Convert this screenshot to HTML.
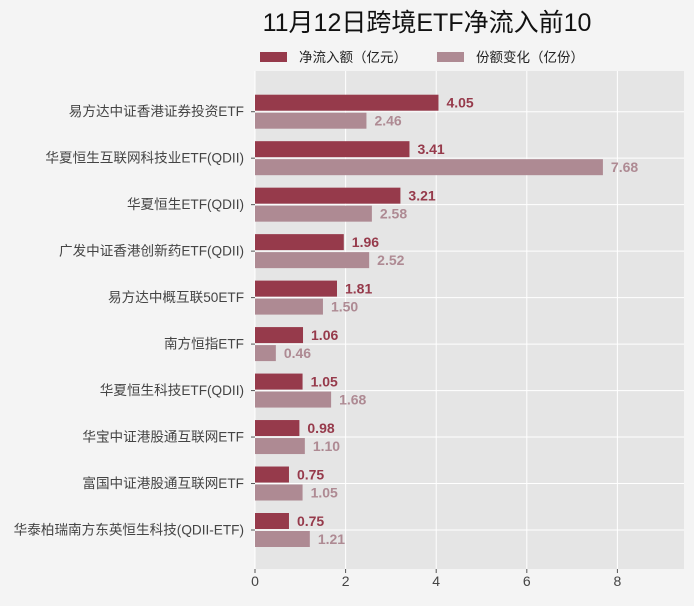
<!DOCTYPE html>
<html><head><meta charset="utf-8"><style>
body{margin:0;background:#f4f4f4;}
svg{display:block;font-family:"Liberation Sans","Noto Sans CJK SC",sans-serif;}
</style></head><body>
<svg id="chart" width="694" height="606">
<rect width="694" height="606" fill="#f4f4f4"/>
<text x="427" y="31" text-anchor="middle" font-size="25" fill="#111">11月12日跨境ETF净流入前10</text>
<g>
<rect x="260" y="52" width="27" height="10" fill="#963a4b"/>
<text x="299" y="62" font-size="13.5" fill="#222">净流入额（亿元）</text>
<rect x="437" y="52" width="27" height="10" fill="#ae8a93"/>
<text x="476" y="62" font-size="13.5" fill="#222">份额变化（亿份）</text>
</g>
<rect x="255" y="71" width="429" height="498" fill="#e5e5e5"/>
<g id="grid"></g><g id="bars"></g><g id="axes"></g>
</svg>
<script>
const categories=["易方达中证香港证券投资ETF","华夏恒生互联网科技业ETF(QDII)","华夏恒生ETF(QDII)","广发中证香港创新药ETF(QDII)","易方达中概互联50ETF","南方恒指ETF","华夏恒生科技ETF(QDII)","华宝中证港股通互联网ETF","富国中证港股通互联网ETF","华泰柏瑞南方东英恒生科技(QDII-ETF)"];
const netInflow=[4.05,3.41,3.21,1.96,1.81,1.06,1.05,0.98,0.75,0.75];
const shareChange=[2.46,7.68,2.58,2.52,1.50,0.46,1.68,1.10,1.05,1.21];
const xTicks=[0,2,4,6,8];
const NS="http://www.w3.org/2000/svg";
const x0=255,xMax=9.47,x1=684;
function xs(v){return x0+v/xMax*(x1-x0);}
function yc(i){return 111.7+i*(530-111.7)/(categories.length-1);}
function mk(t,a,p){const e=document.createElementNS(NS,t);for(const k in a)e.setAttribute(k,a[k]);p.appendChild(e);return e;}
const grid=document.getElementById('grid'),bars=document.getElementById('bars'),axes=document.getElementById('axes');
xTicks.forEach(t=>{
 const l=mk('line',{x1:xs(t),x2:xs(t),y1:71,y2:569,stroke:'#fff','stroke-width':1},grid);
 
 
 const tk=mk('line',{x1:xs(t),x2:xs(t),y1:569,y2:573,stroke:'#555'},axes);
 
 
 const tx=mk('text',{x:xs(t),y:586,'text-anchor':'middle','font-size':14,fill:'#444'},axes);
 tx.textContent=t;
 
 
});
categories.forEach((c,i)=>{
 const y=yc(i);
 const g=mk('line',{x1:255,x2:684,y1:y,y2:y,stroke:'#fff'},grid);
 
 
 const tk=mk('line',{x1:251,x2:255,y1:y,y2:y,stroke:'#555'},axes);
 
 
 const lb=mk('text',{x:244,y:y+4.5,'text-anchor':'end','font-size':13.6,fill:'#444'},axes);
 lb.textContent=c;
 
 
 const b1=mk('rect',{x:x0,y:y-17,width:xs(netInflow[i])-x0,height:16,fill:'#963a4b'},bars);
 
 
 const t1=mk('text',{x:xs(netInflow[i])+8,y:y-4,'font-size':14,'font-weight':'bold',fill:'#963a4b'},bars);
 t1.textContent=netInflow[i].toFixed(2);
 
 
 const b2=mk('rect',{x:x0,y:y+1,width:xs(shareChange[i])-x0,height:16,fill:'#ae8a93'},bars);
 
 
 const t2=mk('text',{x:xs(shareChange[i])+8,y:y+14,'font-size':14,'font-weight':'bold',fill:'#ae8a93'},bars);
 t2.textContent=shareChange[i].toFixed(2);
 
 
});
</script>
</body></html>
